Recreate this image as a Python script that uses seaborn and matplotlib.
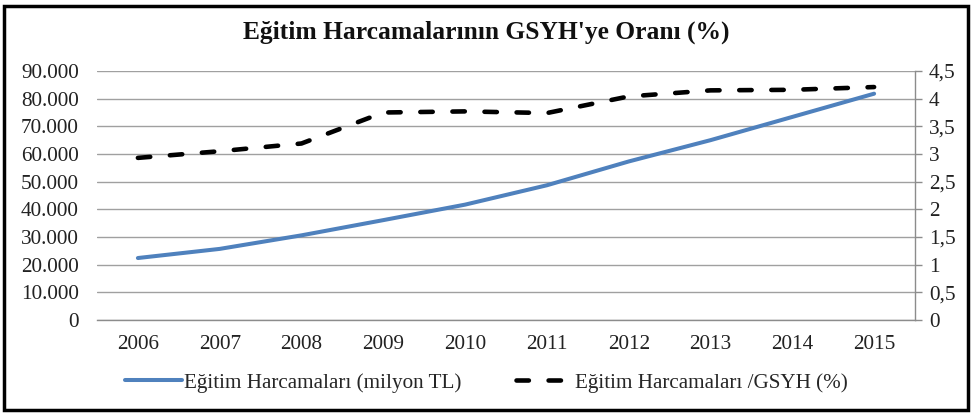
import matplotlib
matplotlib.use("Agg")
import matplotlib.pyplot as plt
import seaborn as sns
import pandas as pd
from matplotlib.patches import Rectangle
from matplotlib.ticker import FuncFormatter, MultipleLocator

years = ["2006", "2007", "2008", "2009", "2010", "2011", "2012", "2013", "2014", "2015"]
harcama = [22400, 25700, 30600, 36100, 41700, 48700, 57300, 65000, 73400, 81800]
oran = [2.93, 3.05, 3.19, 3.75, 3.77, 3.74, 4.04, 4.15, 4.16, 4.21]
label_left = "Eğitim Harcamaları (milyon TL)"
label_right = "Eğitim Harcamaları /GSYH (%)"
title = "Eğitim Harcamalarının GSYH'ye Oranı (%)"

df = pd.DataFrame({"idx": range(len(years)), "harcama": harcama, "oran": oran})

sns.set_style("white")
plt.rcParams["font.family"] = ["Liberation Serif", "DejaVu Serif"]

fig = plt.figure(figsize=(9.73, 4.15), dpi=100)
ax = fig.add_axes([97/973, 1-320/415, (915-97)/973, (320-71)/415])
ax2 = ax.twinx()

blue = "#4F81BD"
sns.lineplot(data=df, x="idx", y="harcama", ax=ax, color=blue, linewidth=2.9, label=label_left, legend=False)
sns.lineplot(data=df, x="idx", y="oran", ax=ax2, color="black", linewidth=3.3, label=label_right, legend=False)
ax2.lines[0].set_dashes([2.7, 4.3])
ax2.lines[0].set_dash_capstyle("round")

ax.set_xlim(-0.5, len(years) - 0.5)
ax.set_ylim(0, 90000)
ax2.set_ylim(0, 4.5)
ax.yaxis.set_major_locator(MultipleLocator(10000))
ax2.yaxis.set_major_locator(MultipleLocator(0.5))
ax.yaxis.set_major_formatter(FuncFormatter(lambda v, p: f"{int(v):,}".replace(",", ".")))
ax2.yaxis.set_major_formatter(FuncFormatter(lambda v, p: (f"{v:g}").replace(".", ",")))
ax.set_xticks(range(len(years)))
ax.set_xticklabels(years)

ax.grid(axis="y", color="#A0A0A0", linewidth=1.0)
ax.set_axisbelow(True)
ax.set_xlabel("")
ax.set_ylabel("")
ax2.set_ylabel("")

for a in (ax, ax2):
    for s in a.spines.values():
        s.set_visible(False)
ax2.spines["right"].set_visible(True)
ax2.spines["right"].set_color("#8C8C8C")
ax2.spines["right"].set_linewidth(1.0)
ax.spines["bottom"].set_visible(True)
ax.spines["bottom"].set_color("#8C8C8C")
ax.spines["bottom"].set_linewidth(1.0)

ax.tick_params(axis="y", length=0, pad=13, labelsize=15.3, colors="#222222")
ax.tick_params(axis="x", length=0, pad=11, labelsize=15.3, colors="#222222")
ax2.tick_params(axis="y", length=5, width=1, color="#8C8C8C", pad=5, labelsize=15.3, colors="#222222")

fig.text(0.5, 1-32/415, title, ha="center", va="center", fontsize=18.4, fontweight="bold", color="#111111")

h1 = ax.lines[0]
h2 = ax2.lines[0]
fig.legend([h1, h2], [label_left, label_right], loc="center", bbox_to_anchor=(0.5, 1-383/415),
           ncol=2, frameon=False, fontsize=15.2, handlelength=2.7, handletextpad=0.1, columnspacing=2.6)

fig.patches.append(Rectangle((4/973, 5/415), 964/973, 404/415, transform=fig.transFigure,
                             fill=False, edgecolor="black", linewidth=2.5))

fig.savefig("out.png", dpi=100)
